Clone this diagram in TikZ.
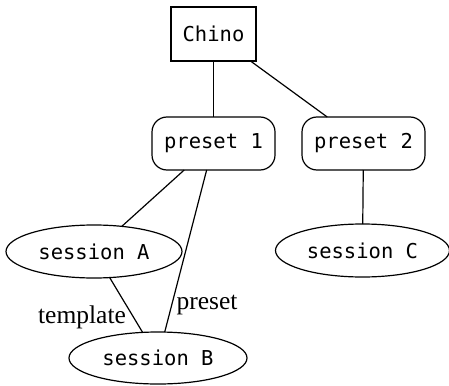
\documentclass[tikz,border=0pt]{standalone}
\usepackage{fontspec}
\setmainfont{Liberation Serif}
\newfontfamily\monofont{DejaVu Sans Mono}
\usetikzlibrary{shapes.geometric}
\begin{document}
\begin{tikzpicture}[x=1pt,y=-1pt,
  every node/.style={inner sep=0pt, outer sep=0pt},
  base/.style={draw, line width=1.2pt, font=\monofont\fontsize{20.5}{24}\selectfont},
  boxnode/.style={base, rectangle, minimum width=85pt, minimum height=54pt},
  presetnode/.style={base, rectangle, rounded corners=15pt, minimum width=123pt, minimum height=53pt},
  sessnode/.style={base, ellipse, minimum width=176pt, minimum height=53pt},
  link/.style={line width=1.2pt},
  lbl/.style={font=\fontsize{25.5}{28}\selectfont}]
\useasboundingbox (0,0) rectangle (449,385);
\node[boxnode] (chino) at (213.5,34) {Chino};
\node[presetnode] (p1) at (213.5,143.5) {preset 1};
\node[presetnode] (p2) at (363.5,143.5) {preset 2};
\node[sessnode] (sA) at (94,251.5) {session A};
\node[sessnode, minimum width=178pt, minimum height=52pt] (sB) at (158,358) {session B};
\node[sessnode, minimum width=174pt] (sC) at (362.5,250.5) {session C};
\draw[link] (chino) -- (p1);
\draw[link] (chino) -- (p2);
\draw[link] (p1) -- (sA);
\draw[link] (p1) -- (sB);
\draw[link] (sA) -- (sB);
\draw[link] (p2) -- (sC);
\node[lbl] (ltemplate) at (82,317) {template};
\node[lbl] (lpreset) at (207,305) {preset};
\end{tikzpicture}
\end{document}
